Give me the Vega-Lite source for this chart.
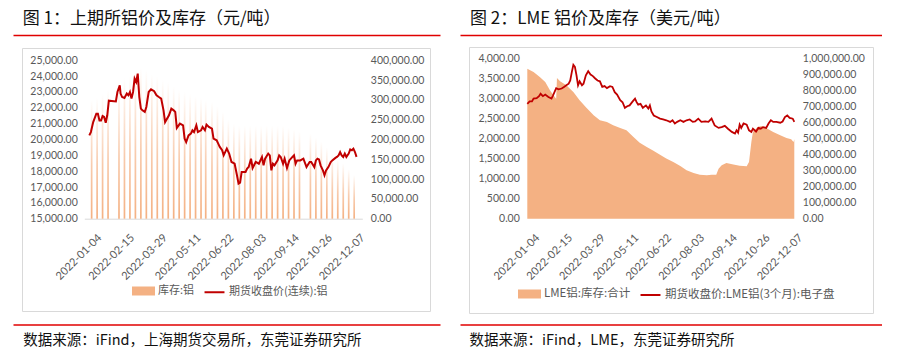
{
  "$schema": "https://vega.github.io/schema/vega-lite/v6.json",
  "background": "white",
  "padding": {"left": 13, "top": 10, "right": 0, "bottom": 0},
  "config": {
    "view": {"stroke": null},
    "axis": {"grid": false, "ticks": false, "domain": false, "title": null, "labelFont": "Lato", "labelColor": "#595959", "labelFontSize": 10.5},
    "title": {"font": "Noto Sans CJK SC", "fontWeight": "normal", "color": "#111111"},
    "legend": {"labelFont": "Noto Sans CJK SC", "labelFontSize": 11, "labelColor": "#595959", "labelLimit": 400, "padding": 0}
  },
  "spacing": 20,
  "resolve": {"scale": {"color": "independent"}, "legend": {"color": "independent"}},
  "hconcat": [
    {
      "width": 427, "height": 289.5,
      "title": {"text": "图 1：上期所铝价及库存（元/吨）", "anchor": "start", "frame": "group", "fontSize": 17, "baseline": "alphabetic", "offset": -6, "dx": 9.7},
      "resolve": {"scale": {"x": "independent", "y": "independent"}},
      "layer": [
        {
          "data": {"values": []},
          "mark": "rule",
          "encoding": {
            "x": {"field": "bx", "type": "quantitative", "scale": {"domain": [0, 1], "range": [9, 417]},
              "axis": {"orient": "top", "offset": -13, "domain": true, "domainColor": "#D9D9D9", "domainWidth": 1, "labels": false, "ticks": false, "grid": false, "title": null, "minExtent": 0, "maxExtent": 0}},
            "y": {"field": "by", "type": "quantitative", "scale": {"domain": [0, 1], "range": [276, 13]},
              "axis": {"orient": "left", "offset": -9, "domain": true, "domainColor": "#D9D9D9", "domainWidth": 1, "labels": false, "ticks": false, "grid": false, "title": null, "minExtent": 0, "maxExtent": 0}}
          }
        },
        {
          "data": {"values": []},
          "mark": "rule",
          "encoding": {
            "x": {"field": "bx2", "type": "quantitative", "scale": {"domain": [0, 1], "range": [9, 417]},
              "axis": {"orient": "bottom", "offset": -13.5, "domain": true, "domainColor": "#D9D9D9", "domainWidth": 1, "labels": false, "ticks": false, "grid": false, "title": null, "minExtent": 0, "maxExtent": 0}},
            "y": {"field": "by2", "type": "quantitative", "scale": {"domain": [0, 1], "range": [276, 13]},
              "axis": {"orient": "right", "offset": -10, "domain": true, "domainColor": "#D9D9D9", "domainWidth": 1, "labels": false, "ticks": false, "grid": false, "title": null, "minExtent": 0, "maxExtent": 0}}
          }
        },
        {
          "encoding": {
            "x": {"field": "date", "type": "temporal",
              "scale": {"type": "utc", "range": [71.3, 349.3], "domain": [{"year": 2022, "month": 1, "date": 4, "utc": true}, {"year": 2022, "month": 12, "date": 13, "utc": true}]},
              "axis": {"orient": "bottom", "offset": -105.8, "values": [
                {"year": 2022, "month": 1, "date": 4, "utc": true},
                {"year": 2022, "month": 2, "date": 15, "utc": true},
                {"year": 2022, "month": 3, "date": 29, "utc": true},
                {"year": 2022, "month": 5, "date": 11, "utc": true},
                {"year": 2022, "month": 6, "date": 22, "utc": true},
                {"year": 2022, "month": 8, "date": 3, "utc": true},
                {"year": 2022, "month": 9, "date": 14, "utc": true},
                {"year": 2022, "month": 10, "date": 26, "utc": true},
                {"year": 2022, "month": 12, "date": 7, "utc": true}],
                "format": "%Y-%m-%d", "labelAngle": -45, "labelFontSize": 11, "labelPadding": 13, "labelOffset": 6,
                "domain": true, "domainColor": "#D9D9D9", "labelOverlap": false}}
          },
          "layer": [
            {
              "data": {"values": [
                {"date": "2022-01-07", "inventory": 300000},
                {"date": "2022-01-14", "inventory": 305000},
                {"date": "2022-01-21", "inventory": 315000},
                {"date": "2022-01-28", "inventory": 325000},
                {"date": "2022-02-11", "inventory": 345000},
                {"date": "2022-02-18", "inventory": 355000},
                {"date": "2022-02-25", "inventory": 360000},
                {"date": "2022-03-04", "inventory": 370000},
                {"date": "2022-03-11", "inventory": 380000},
                {"date": "2022-03-18", "inventory": 375000},
                {"date": "2022-03-25", "inventory": 365000},
                {"date": "2022-04-01", "inventory": 360000},
                {"date": "2022-04-08", "inventory": 350000},
                {"date": "2022-04-15", "inventory": 345000},
                {"date": "2022-04-22", "inventory": 335000},
                {"date": "2022-04-29", "inventory": 325000},
                {"date": "2022-05-06", "inventory": 320000},
                {"date": "2022-05-13", "inventory": 315000},
                {"date": "2022-05-20", "inventory": 310000},
                {"date": "2022-05-27", "inventory": 305000},
                {"date": "2022-06-02", "inventory": 300000},
                {"date": "2022-06-10", "inventory": 295000},
                {"date": "2022-06-17", "inventory": 285000},
                {"date": "2022-06-24", "inventory": 270000},
                {"date": "2022-07-01", "inventory": 250000},
                {"date": "2022-07-08", "inventory": 240000},
                {"date": "2022-07-15", "inventory": 235000},
                {"date": "2022-07-22", "inventory": 235000},
                {"date": "2022-07-29", "inventory": 235000},
                {"date": "2022-08-05", "inventory": 235000},
                {"date": "2022-08-12", "inventory": 235000},
                {"date": "2022-08-19", "inventory": 235000},
                {"date": "2022-08-26", "inventory": 235000},
                {"date": "2022-09-02", "inventory": 235000},
                {"date": "2022-09-09", "inventory": 235000},
                {"date": "2022-09-16", "inventory": 230000},
                {"date": "2022-09-23", "inventory": 225000},
                {"date": "2022-09-30", "inventory": 220000},
                {"date": "2022-10-14", "inventory": 215000},
                {"date": "2022-10-21", "inventory": 205000},
                {"date": "2022-10-28", "inventory": 195000},
                {"date": "2022-11-04", "inventory": 180000},
                {"date": "2022-11-11", "inventory": 165000},
                {"date": "2022-11-18", "inventory": 150000},
                {"date": "2022-11-25", "inventory": 140000},
                {"date": "2022-12-02", "inventory": 125000},
                {"date": "2022-12-09", "inventory": 110000}
              ]},
              "mark": {"type": "bar", "size": 1.7,
                "fill": {"gradient": "linear", "x1": 0, "y1": 1, "x2": 0, "y2": 0,
                  "stops": [{"offset": 0, "color": "#F4B183"}, {"offset": 0.45, "color": "#F8CBAD"}, {"offset": 1, "color": "#FFFFFF"}]}},
              "encoding": {
                "y": {"field": "inventory", "type": "quantitative",
                  "scale": {"domain": [0, 400000], "range": [183.7, 25.3], "nice": false},
                  "axis": {"orient": "right", "offset": -77.7, "values": [0, 50000, 100000, 150000, 200000, 250000, 300000, 350000, 400000], "format": ",.2f", "labelPadding": 8}}
              }
            },
            {
              "data": {"values": [
                {"date": "2022-01-04", "price": 20260}, {"date": "2022-01-06", "price": 20470}, {"date": "2022-01-09", "price": 21100},
                {"date": "2022-01-13", "price": 21630}, {"date": "2022-01-15", "price": 21630}, {"date": "2022-01-17", "price": 21200},
                {"date": "2022-01-19", "price": 21200}, {"date": "2022-01-21", "price": 21480}, {"date": "2022-01-23", "price": 21420},
                {"date": "2022-01-25", "price": 21060}, {"date": "2022-01-27", "price": 21530}, {"date": "2022-01-29", "price": 22450},
                {"date": "2022-02-07", "price": 22400}, {"date": "2022-02-09", "price": 23000}, {"date": "2022-02-12", "price": 23420},
                {"date": "2022-02-13", "price": 22900}, {"date": "2022-02-15", "price": 22680}, {"date": "2022-02-18", "price": 22620},
                {"date": "2022-02-21", "price": 22900}, {"date": "2022-02-23", "price": 22790}, {"date": "2022-02-25", "price": 23000},
                {"date": "2022-02-27", "price": 22580}, {"date": "2022-03-01", "price": 23000}, {"date": "2022-03-03", "price": 23840},
                {"date": "2022-03-05", "price": 23630}, {"date": "2022-03-07", "price": 24160}, {"date": "2022-03-09", "price": 22680},
                {"date": "2022-03-11", "price": 21950}, {"date": "2022-03-13", "price": 21840}, {"date": "2022-03-16", "price": 21740},
                {"date": "2022-03-18", "price": 22050}, {"date": "2022-03-21", "price": 23000}, {"date": "2022-03-24", "price": 23170},
                {"date": "2022-03-28", "price": 23050}, {"date": "2022-03-31", "price": 22790}, {"date": "2022-04-03", "price": 22680},
                {"date": "2022-04-06", "price": 22580}, {"date": "2022-04-09", "price": 21840}, {"date": "2022-04-11", "price": 21100},
                {"date": "2022-04-16", "price": 21530}, {"date": "2022-04-19", "price": 21950}, {"date": "2022-04-22", "price": 21840},
                {"date": "2022-04-24", "price": 21740}, {"date": "2022-04-26", "price": 20730}, {"date": "2022-04-30", "price": 21000},
                {"date": "2022-05-04", "price": 20890}, {"date": "2022-05-06", "price": 20050}, {"date": "2022-05-08", "price": 19840},
                {"date": "2022-05-11", "price": 20260}, {"date": "2022-05-14", "price": 20370}, {"date": "2022-05-16", "price": 20580},
                {"date": "2022-05-18", "price": 20470}, {"date": "2022-05-21", "price": 20890}, {"date": "2022-05-23", "price": 20470},
                {"date": "2022-05-27", "price": 20580}, {"date": "2022-05-29", "price": 20790}, {"date": "2022-06-01", "price": 20580},
                {"date": "2022-06-03", "price": 20940}, {"date": "2022-06-06", "price": 20790}, {"date": "2022-06-10", "price": 20680},
                {"date": "2022-06-12", "price": 20050}, {"date": "2022-06-16", "price": 19950}, {"date": "2022-06-18", "price": 19740},
                {"date": "2022-06-20", "price": 19530}, {"date": "2022-06-23", "price": 19320}, {"date": "2022-06-25", "price": 19000},
                {"date": "2022-06-29", "price": 19420}, {"date": "2022-07-02", "price": 19110}, {"date": "2022-07-05", "price": 18580},
                {"date": "2022-07-09", "price": 18470}, {"date": "2022-07-12", "price": 17740}, {"date": "2022-07-14", "price": 17210},
                {"date": "2022-07-16", "price": 17270}, {"date": "2022-07-18", "price": 17950}, {"date": "2022-07-23", "price": 17950},
                {"date": "2022-07-25", "price": 18160}, {"date": "2022-07-27", "price": 18260}, {"date": "2022-07-30", "price": 18790},
                {"date": "2022-08-01", "price": 18200}, {"date": "2022-08-05", "price": 18580}, {"date": "2022-08-09", "price": 18470},
                {"date": "2022-08-13", "price": 18900}, {"date": "2022-08-15", "price": 18370}, {"date": "2022-08-17", "price": 18790},
                {"date": "2022-08-21", "price": 19110}, {"date": "2022-08-23", "price": 19000}, {"date": "2022-08-25", "price": 18050},
                {"date": "2022-08-27", "price": 18470}, {"date": "2022-08-29", "price": 18370}, {"date": "2022-09-02", "price": 18680},
                {"date": "2022-09-04", "price": 19000}, {"date": "2022-09-06", "price": 18900}, {"date": "2022-09-09", "price": 18470},
                {"date": "2022-09-11", "price": 18790}, {"date": "2022-09-14", "price": 18200}, {"date": "2022-09-17", "price": 18680},
                {"date": "2022-09-21", "price": 18900}, {"date": "2022-09-23", "price": 19000}, {"date": "2022-09-25", "price": 18470},
                {"date": "2022-09-27", "price": 18680}, {"date": "2022-10-01", "price": 18680}, {"date": "2022-10-05", "price": 18790},
                {"date": "2022-10-09", "price": 18260}, {"date": "2022-10-13", "price": 18580}, {"date": "2022-10-15", "price": 18580},
                {"date": "2022-10-19", "price": 18260}, {"date": "2022-10-21", "price": 18680}, {"date": "2022-10-23", "price": 18790},
                {"date": "2022-10-25", "price": 18740}, {"date": "2022-10-27", "price": 18370}, {"date": "2022-10-30", "price": 18050},
                {"date": "2022-11-01", "price": 17740}, {"date": "2022-11-03", "price": 18050}, {"date": "2022-11-06", "price": 18260},
                {"date": "2022-11-09", "price": 18580}, {"date": "2022-11-11", "price": 18680}, {"date": "2022-11-15", "price": 18840},
                {"date": "2022-11-17", "price": 18900}, {"date": "2022-11-19", "price": 19000}, {"date": "2022-11-21", "price": 19210},
                {"date": "2022-11-23", "price": 19000}, {"date": "2022-11-25", "price": 18900}, {"date": "2022-11-27", "price": 19110},
                {"date": "2022-11-29", "price": 18900}, {"date": "2022-12-02", "price": 19110}, {"date": "2022-12-04", "price": 19370},
                {"date": "2022-12-06", "price": 19320}, {"date": "2022-12-08", "price": 19420}, {"date": "2022-12-10", "price": 19210},
                {"date": "2022-12-12", "price": 18900}
              ]},
              "mark": {"type": "line", "strokeWidth": 2},
              "encoding": {
                "y": {"field": "price", "type": "quantitative",
                  "scale": {"domain": [15000, 25000], "range": [183.7, 25.3], "nice": false, "zero": false},
                  "axis": {"orient": "left", "offset": -71.3, "values": [15000, 16000, 17000, 18000, 19000, 20000, 21000, 22000, 23000, 24000, 25000], "format": ",.2f", "labelPadding": 7}},
                "color": {"datum": "期货收盘价(连续):铝", "type": "nominal",
                  "scale": {"domain": ["库存:铝", "期货收盘价(连续):铝"], "range": ["#F4B183", "#C00000"]},
                  "legend": {"orient": "none", "legendX": 119, "legendY": 244.5, "direction": "horizontal", "title": null,
                    "symbolSize": 441, "columnPadding": 5, "labelOffset": 3,
                    "encode": {"symbols": {"update": {
                      "shape": {"signal": "datum.value === '库存:铝' ? 'M-1,-0.33H1V0.33H-1Z' : 'M-0.95,0H0.95'"},
                      "fill": {"signal": "datum.value === '库存:铝' ? '#F4B183' : 'transparent'"},
                      "stroke": {"signal": "datum.value === '库存:铝' ? 'transparent' : '#C00000'"},
                      "strokeWidth": {"value": 2},
                      "opacity": {"value": 1}}}}}}
              }
            }
          ],
          "resolve": {"scale": {"y": "independent"}}
        },
        {
          "data": {"values": []},
          "mark": "rule",
          "encoding": {
            "x": {"field": "u", "type": "quantitative", "scale": {"domain": [0, 1], "range": [0, 427]},
              "axis": {"orient": "top", "domain": true, "domainColor": "#E00000", "domainWidth": 1.5, "labels": false, "ticks": false, "grid": false, "title": null}}
          }
        },
        {
          "data": {"values": []},
          "mark": "rule",
          "encoding": {
            "x": {"field": "v", "type": "quantitative", "scale": {"domain": [0, 1], "range": [0, 427]},
              "axis": {"orient": "bottom", "domain": true, "domainColor": "#E00000", "domainWidth": 1.5, "labels": false, "ticks": false, "grid": false,
                "title": "数据来源：iFind，上海期货交易所，东莞证券研究所", "titleFont": "Noto Sans CJK SC", "titleFontSize": 14.5, "titleFontWeight": "normal", "titleColor": "#111111",
                "titleAnchor": "start", "titleAlign": "left", "titleBaseline": "middle", "titleX": 9.7, "titleY": 16}}
          }
        }
      ]
    },
    {
      "width": 422, "height": 289.5,
      "title": {"text": "图 2：LME 铝价及库存（美元/吨）", "anchor": "start", "frame": "group", "fontSize": 17, "baseline": "alphabetic", "offset": -6, "dx": 10},
      "resolve": {"scale": {"x": "independent", "y": "independent"}},
      "layer": [
        {
          "data": {"values": []},
          "mark": "rule",
          "encoding": {
            "x": {"field": "bx", "type": "quantitative", "scale": {"domain": [0, 1], "range": [9, 413]},
              "axis": {"orient": "top", "offset": -12, "domain": true, "domainColor": "#D9D9D9", "domainWidth": 1, "labels": false, "ticks": false, "grid": false, "title": null, "minExtent": 0, "maxExtent": 0}},
            "y": {"field": "by", "type": "quantitative", "scale": {"domain": [0, 1], "range": [278, 12]},
              "axis": {"orient": "left", "offset": -9, "domain": true, "domainColor": "#D9D9D9", "domainWidth": 1, "labels": false, "ticks": false, "grid": false, "title": null, "minExtent": 0, "maxExtent": 0}}
          }
        },
        {
          "data": {"values": []},
          "mark": "rule",
          "encoding": {
            "x": {"field": "bx2", "type": "quantitative", "scale": {"domain": [0, 1], "range": [9, 413]},
              "axis": {"orient": "bottom", "offset": -11.5, "domain": true, "domainColor": "#D9D9D9", "domainWidth": 1, "labels": false, "ticks": false, "grid": false, "title": null, "minExtent": 0, "maxExtent": 0}},
            "y": {"field": "by2", "type": "quantitative", "scale": {"domain": [0, 1], "range": [278, 12]},
              "axis": {"orient": "right", "offset": -9, "domain": true, "domainColor": "#D9D9D9", "domainWidth": 1, "labels": false, "ticks": false, "grid": false, "title": null, "minExtent": 0, "maxExtent": 0}}
          }
        },
        {
          "encoding": {
            "x": {"field": "date", "type": "temporal",
              "scale": {"type": "utc", "range": [67.3, 334.3], "domain": [{"year": 2022, "month": 1, "date": 4, "utc": true}, {"year": 2022, "month": 12, "date": 12, "utc": true}]},
              "axis": {"orient": "bottom", "offset": -105.8, "values": [
                {"year": 2022, "month": 1, "date": 4, "utc": true},
                {"year": 2022, "month": 2, "date": 15, "utc": true},
                {"year": 2022, "month": 3, "date": 29, "utc": true},
                {"year": 2022, "month": 5, "date": 11, "utc": true},
                {"year": 2022, "month": 6, "date": 22, "utc": true},
                {"year": 2022, "month": 8, "date": 3, "utc": true},
                {"year": 2022, "month": 9, "date": 14, "utc": true},
                {"year": 2022, "month": 10, "date": 26, "utc": true},
                {"year": 2022, "month": 12, "date": 7, "utc": true}],
                "format": "%Y-%m-%d", "labelAngle": -45, "labelFontSize": 11, "labelPadding": 13, "labelOffset": 6,
                "domain": false, "labelOverlap": false}}
          },
          "layer": [
            {
              "data": {"values": [
                {"date": "2022-01-04", "stock": 933000}, {"date": "2022-01-12", "stock": 913000}, {"date": "2022-01-20", "stock": 882000},
                {"date": "2022-01-27", "stock": 851000}, {"date": "2022-02-02", "stock": 799000}, {"date": "2022-02-06", "stock": 772000},
                {"date": "2022-02-10", "stock": 747000}, {"date": "2022-02-11", "stock": 876000}, {"date": "2022-02-15", "stock": 855000},
                {"date": "2022-02-23", "stock": 830000}, {"date": "2022-03-04", "stock": 789000}, {"date": "2022-03-12", "stock": 737000},
                {"date": "2022-03-21", "stock": 689000}, {"date": "2022-03-30", "stock": 643000}, {"date": "2022-04-07", "stock": 612000},
                {"date": "2022-04-16", "stock": 602000}, {"date": "2022-04-24", "stock": 581000}, {"date": "2022-05-03", "stock": 564000},
                {"date": "2022-05-11", "stock": 550000}, {"date": "2022-05-20", "stock": 508000}, {"date": "2022-05-28", "stock": 473000},
                {"date": "2022-06-06", "stock": 446000}, {"date": "2022-06-14", "stock": 425000}, {"date": "2022-06-23", "stock": 398000},
                {"date": "2022-07-01", "stock": 374000}, {"date": "2022-07-10", "stock": 353000}, {"date": "2022-07-19", "stock": 328000},
                {"date": "2022-07-27", "stock": 301000}, {"date": "2022-08-05", "stock": 284000}, {"date": "2022-08-13", "stock": 274000},
                {"date": "2022-08-22", "stock": 270000}, {"date": "2022-08-28", "stock": 274000}, {"date": "2022-09-03", "stock": 274000},
                {"date": "2022-09-06", "stock": 311000}, {"date": "2022-09-10", "stock": 332000}, {"date": "2022-09-16", "stock": 347000},
                {"date": "2022-09-25", "stock": 338000}, {"date": "2022-10-03", "stock": 330000}, {"date": "2022-10-12", "stock": 326000},
                {"date": "2022-10-15", "stock": 353000}, {"date": "2022-10-18", "stock": 477000}, {"date": "2022-10-20", "stock": 540000},
                {"date": "2022-10-26", "stock": 571000}, {"date": "2022-10-31", "stock": 577000}, {"date": "2022-11-06", "stock": 564000},
                {"date": "2022-11-15", "stock": 540000}, {"date": "2022-11-24", "stock": 519000}, {"date": "2022-12-02", "stock": 502000},
                {"date": "2022-12-08", "stock": 494000}, {"date": "2022-12-11", "stock": 477000}, {"date": "2022-12-12", "stock": 494000}
              ]},
              "mark": {"type": "area", "color": "#F4B183", "opacity": 1},
              "encoding": {
                "y": {"field": "stock", "type": "quantitative",
                  "scale": {"domain": [0, 1000000], "range": [183.7, 23], "nice": false},
                  "axis": {"orient": "right", "offset": -87.7, "values": [0, 100000, 200000, 300000, 400000, 500000, 600000, 700000, 800000, 900000, 1000000], "format": ",.2f", "labelPadding": 8}}
              }
            },
            {
              "data": {"values": [
                {"date": "2022-01-04", "price": 2860}, {"date": "2022-01-07", "price": 2920}, {"date": "2022-01-10", "price": 2920},
                {"date": "2022-01-12", "price": 2990}, {"date": "2022-01-16", "price": 3000}, {"date": "2022-01-19", "price": 3050},
                {"date": "2022-01-21", "price": 3110}, {"date": "2022-01-24", "price": 3050}, {"date": "2022-01-27", "price": 3090},
                {"date": "2022-01-31", "price": 3030}, {"date": "2022-02-04", "price": 2990}, {"date": "2022-02-06", "price": 3070},
                {"date": "2022-02-10", "price": 3250}, {"date": "2022-02-13", "price": 3220}, {"date": "2022-02-17", "price": 3240},
                {"date": "2022-02-20", "price": 3280}, {"date": "2022-02-23", "price": 3320}, {"date": "2022-02-26", "price": 3360},
                {"date": "2022-02-28", "price": 3440}, {"date": "2022-03-02", "price": 3650}, {"date": "2022-03-04", "price": 3830},
                {"date": "2022-03-06", "price": 3780}, {"date": "2022-03-08", "price": 3570}, {"date": "2022-03-10", "price": 3320},
                {"date": "2022-03-12", "price": 3420}, {"date": "2022-03-15", "price": 3320}, {"date": "2022-03-17", "price": 3360},
                {"date": "2022-03-20", "price": 3570}, {"date": "2022-03-23", "price": 3670}, {"date": "2022-03-26", "price": 3590},
                {"date": "2022-03-29", "price": 3550}, {"date": "2022-04-01", "price": 3490}, {"date": "2022-04-04", "price": 3440},
                {"date": "2022-04-07", "price": 3420}, {"date": "2022-04-10", "price": 3280}, {"date": "2022-04-13", "price": 3300},
                {"date": "2022-04-16", "price": 3250}, {"date": "2022-04-20", "price": 3300}, {"date": "2022-04-23", "price": 3280},
                {"date": "2022-04-26", "price": 3150}, {"date": "2022-04-29", "price": 3090}, {"date": "2022-05-03", "price": 2950},
                {"date": "2022-05-06", "price": 2900}, {"date": "2022-05-09", "price": 2760}, {"date": "2022-05-12", "price": 2800},
                {"date": "2022-05-15", "price": 2820}, {"date": "2022-05-19", "price": 2920}, {"date": "2022-05-22", "price": 2990},
                {"date": "2022-05-24", "price": 2900}, {"date": "2022-05-26", "price": 2840}, {"date": "2022-05-29", "price": 2860},
                {"date": "2022-06-01", "price": 2760}, {"date": "2022-06-05", "price": 2820}, {"date": "2022-06-08", "price": 2740},
                {"date": "2022-06-10", "price": 2820}, {"date": "2022-06-12", "price": 2670}, {"date": "2022-06-15", "price": 2570},
                {"date": "2022-06-19", "price": 2530}, {"date": "2022-06-23", "price": 2490}, {"date": "2022-06-27", "price": 2470},
                {"date": "2022-07-01", "price": 2450}, {"date": "2022-07-06", "price": 2410}, {"date": "2022-07-09", "price": 2450},
                {"date": "2022-07-12", "price": 2370}, {"date": "2022-07-15", "price": 2410}, {"date": "2022-07-19", "price": 2450},
                {"date": "2022-07-23", "price": 2410}, {"date": "2022-07-27", "price": 2450}, {"date": "2022-07-31", "price": 2470},
                {"date": "2022-08-04", "price": 2410}, {"date": "2022-08-07", "price": 2420}, {"date": "2022-08-11", "price": 2490},
                {"date": "2022-08-15", "price": 2410}, {"date": "2022-08-20", "price": 2420}, {"date": "2022-08-24", "price": 2410},
                {"date": "2022-08-28", "price": 2490}, {"date": "2022-09-01", "price": 2320}, {"date": "2022-09-06", "price": 2260},
                {"date": "2022-09-10", "price": 2280}, {"date": "2022-09-14", "price": 2310}, {"date": "2022-09-18", "price": 2240},
                {"date": "2022-09-23", "price": 2160}, {"date": "2022-09-27", "price": 2120}, {"date": "2022-09-29", "price": 2200},
                {"date": "2022-10-01", "price": 2140}, {"date": "2022-10-03", "price": 2340}, {"date": "2022-10-05", "price": 2260},
                {"date": "2022-10-08", "price": 2370}, {"date": "2022-10-12", "price": 2340}, {"date": "2022-10-15", "price": 2200},
                {"date": "2022-10-18", "price": 2160}, {"date": "2022-10-20", "price": 2240}, {"date": "2022-10-24", "price": 2170},
                {"date": "2022-10-27", "price": 2260}, {"date": "2022-10-30", "price": 2240}, {"date": "2022-11-02", "price": 2280},
                {"date": "2022-11-06", "price": 2260}, {"date": "2022-11-09", "price": 2370}, {"date": "2022-11-12", "price": 2450},
                {"date": "2022-11-15", "price": 2410}, {"date": "2022-11-19", "price": 2410}, {"date": "2022-11-24", "price": 2390},
                {"date": "2022-11-27", "price": 2420}, {"date": "2022-11-30", "price": 2530}, {"date": "2022-12-03", "price": 2570},
                {"date": "2022-12-06", "price": 2510}, {"date": "2022-12-10", "price": 2490}, {"date": "2022-12-12", "price": 2410}
              ]},
              "mark": {"type": "line", "strokeWidth": 1.8},
              "encoding": {
                "y": {"field": "price", "type": "quantitative",
                  "scale": {"domain": [0, 4000], "range": [183.7, 23], "nice": false},
                  "axis": {"orient": "left", "offset": -67.3, "values": [0, 500, 1000, 1500, 2000, 2500, 3000, 3500, 4000], "format": ",.2f", "labelPadding": 8}},
                "color": {"datum": "期货收盘价:LME铝(3个月):电子盘", "type": "nominal",
                  "scale": {"domain": ["LME铝:库存:合计", "期货收盘价:LME铝(3个月):电子盘"], "range": ["#F4B183", "#C00000"]},
                  "legend": {"orient": "none", "legendX": 58, "legendY": 247.5, "direction": "horizontal", "title": null,
                    "symbolSize": 441, "columnPadding": 5, "labelOffset": 3, "labelFontSize": 11.5,
                    "encode": {"symbols": {"update": {
                      "shape": {"signal": "datum.value === 'LME铝:库存:合计' ? 'M-1,-0.33H1V0.33H-1Z' : 'M-0.95,0H0.95'"},
                      "fill": {"signal": "datum.value === 'LME铝:库存:合计' ? '#F4B183' : 'transparent'"},
                      "stroke": {"signal": "datum.value === 'LME铝:库存:合计' ? 'transparent' : '#C00000'"},
                      "strokeWidth": {"value": 2},
                      "opacity": {"value": 1}}}}}}
              }
            }
          ],
          "resolve": {"scale": {"y": "independent"}}
        },
        {
          "data": {"values": []},
          "mark": "rule",
          "encoding": {
            "x": {"field": "u", "type": "quantitative", "scale": {"domain": [0, 1], "range": [0, 422]},
              "axis": {"orient": "top", "domain": true, "domainColor": "#E00000", "domainWidth": 1.5, "labels": false, "ticks": false, "grid": false, "title": null}}
          }
        },
        {
          "data": {"values": []},
          "mark": "rule",
          "encoding": {
            "x": {"field": "v", "type": "quantitative", "scale": {"domain": [0, 1], "range": [0, 422]},
              "axis": {"orient": "bottom", "domain": true, "domainColor": "#E00000", "domainWidth": 1.5, "labels": false, "ticks": false, "grid": false,
                "title": "数据来源：iFind，LME，东莞证券研究所", "titleFont": "Noto Sans CJK SC", "titleFontSize": 14.5, "titleFontWeight": "normal", "titleColor": "#111111",
                "titleAnchor": "start", "titleAlign": "left", "titleBaseline": "middle", "titleX": 9, "titleY": 16}}
          }
        }
      ]
    }
  ]
}
